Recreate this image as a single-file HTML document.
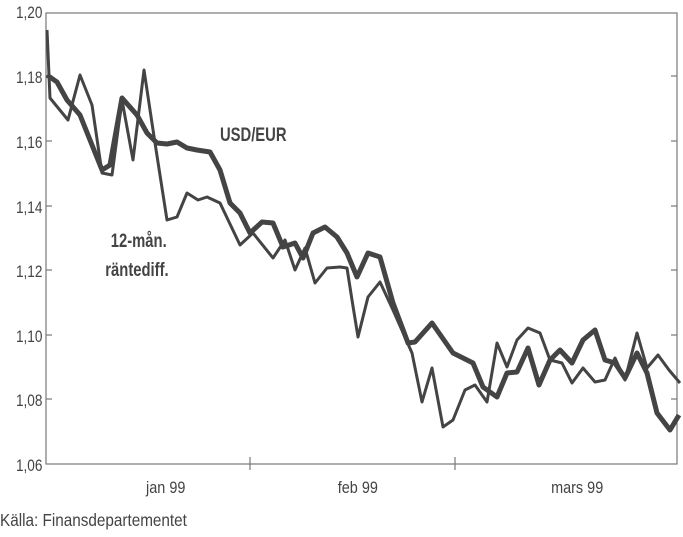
<!DOCTYPE html>
<html><head><meta charset="utf-8"><style>
body{margin:0;background:#fff;width:683px;height:532px;overflow:hidden}
svg text{font-family:"Liberation Sans",sans-serif;fill:#444}
</style></head><body>
<svg width="683" height="532" viewBox="0 0 683 532">
<rect x="46" y="13" width="631" height="451" fill="none" stroke="#777" stroke-width="1.2"/>
<g stroke="#777" stroke-width="1.2">
<line x1="46" y1="76" x2="52" y2="76"/><line x1="46" y1="141" x2="52" y2="141"/><line x1="46" y1="206" x2="52" y2="206"/><line x1="46" y1="270" x2="52" y2="270"/><line x1="46" y1="335" x2="52" y2="335"/><line x1="46" y1="399" x2="52" y2="399"/>
<line x1="671" y1="76" x2="677" y2="76"/><line x1="671" y1="141" x2="677" y2="141"/><line x1="671" y1="206" x2="677" y2="206"/><line x1="671" y1="270" x2="677" y2="270"/><line x1="671" y1="335" x2="677" y2="335"/><line x1="671" y1="399" x2="677" y2="399"/>
<line x1="250" y1="457" x2="250" y2="470"/><line x1="455" y1="457" x2="455" y2="470"/>
</g>
<g font-size="17" text-anchor="end" transform="scale(0.8,1)">
<text x="53" y="18">1,20</text><text x="53" y="83">1,18</text><text x="53" y="148">1,16</text><text x="53" y="213">1,14</text><text x="53" y="277">1,12</text><text x="53" y="342">1,10</text><text x="53" y="406">1,08</text><text x="53" y="471">1,06</text>
</g>
<g font-size="17" text-anchor="middle" transform="scale(0.85,1)">
<text x="195" y="493">jan 99</text><text x="421" y="493">feb 99</text><text x="679" y="493">mars 99</text>
</g>
<text x="0" y="526" font-size="18" transform="scale(0.85,1)">Källa: Finansdepartementet</text>
<g font-size="19" font-weight="bold" transform="scale(0.78,1)">
<text x="282" y="141">USD/EUR</text>
<text x="142" y="247">12-mån.</text>
<text x="135" y="276">räntediff.</text>
</g>
<polyline fill="none" stroke="#444" stroke-width="3" stroke-linejoin="round" points="47,30 50,98 68,120 80,75 92,105 102,173 112,175 122,100 133,160 144,70 155,143 167,220 177,217 187,193 198,200 207,197 220,203 240,245 253,233 273,258 285,240 295,270 305,248 315,283 327,268 340,267 347,268 352,300 358,337 368,297 380,282 393,310 412,353 422,402 432,368 443,427 453,420 465,390 475,385 487,402 497,343 507,367 517,340 528,328 540,333 550,360 562,363 572,383 583,368 595,382 605,380 615,358 625,380 637,333 647,368 658,355 669,370 680,383"/>
<polyline fill="none" stroke="#444" stroke-width="5" stroke-linejoin="round" points="47,75 57,82 67,100 80,115 90,140 102,170 110,165 122,98 137,115 147,133 157,143 167,144 177,142 187,148 197,150 210,152 220,170 230,203 240,213 250,233 262,222 273,223 283,247 295,243 303,258 313,233 325,227 337,237 347,253 357,277 368,253 380,257 393,303 408,343 415,342 432,323 453,353 473,363 483,387 497,397 507,373 517,372 528,348 539,385 550,360 560,350 572,363 583,340 595,330 605,360 615,363 625,378 637,353 647,373 657,413 670,430 679,415"/>
</svg>
</body></html>
